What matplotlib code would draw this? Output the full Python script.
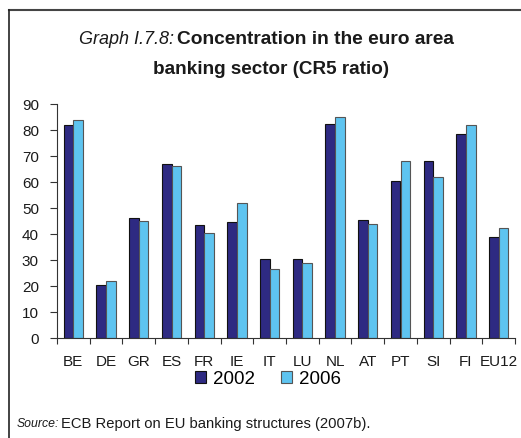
import matplotlib
matplotlib.use("Agg")
import matplotlib.pyplot as plt
from matplotlib.patches import Patch
from matplotlib.lines import Line2D
import numpy as np

plt.rcParams['font.family'] = ['Liberation Sans', 'DejaVu Sans']

categories = ["BE", "DE", "GR", "ES", "FR", "IE", "IT", "LU", "NL", "AT", "PT", "SI", "FI", "EU12"]
v2002 = [82, 20.5, 46, 67, 43.5, 44.5, 30.5, 30.5, 82.5, 45.5, 60.5, 68, 78.5, 39]
v2006 = [84, 22, 45, 66, 40.5, 52, 26.5, 29, 85, 44, 68, 62, 82, 42.5]
yticks = [0, 10, 20, 30, 40, 50, 60, 70, 80, 90]

c2002 = "#2E2A82"
c2006 = "#5EC4F0"

W, H = 521, 438
fig = plt.figure(figsize=(W / 100, H / 100), dpi=100)
ax = fig.add_axes([57 / W, 1 - 338 / H, (515 - 57) / W, (338 - 104) / H])

x = np.arange(len(categories))
bw = 0.295
ax.bar(x - bw / 2, v2002, width=bw, color=c2002, edgecolor="#111111", linewidth=0.8)
ax.bar(x + bw / 2, v2006, width=bw, color=c2006, edgecolor="#555555", linewidth=0.8)

ax.set_xlim(-0.5, len(categories) - 0.5)
ax.set_ylim(0, 90)
ax.set_yticks(yticks)
ax.set_xticks(x)
ax.set_xticklabels(categories, fontsize=11, color="#1a1a1a")
ax.set_xticks(np.arange(-0.5, len(categories), 1), minor=True)
ax.tick_params(axis="x", which="major", length=0, pad=12)
ax.tick_params(axis="x", which="minor", length=4, width=0.8, color="#333333", direction="out")
ax.tick_params(axis="y", length=5, width=0.8, color="#333333", labelsize=11, labelcolor="#1a1a1a", pad=8)
for s in ["top", "right"]:
    ax.spines[s].set_visible(False)
for s in ["left", "bottom"]:
    ax.spines[s].set_color("#333333")
    ax.spines[s].set_linewidth(0.8)

# Title
fig.text(174 / W, 1 - 40 / H, "Graph I.7.8:", ha="right", va="center", fontsize=13, style="italic", color="#1a1a1a")
fig.text(177 / W, 1 - 40 / H, "Concentration in the euro area", ha="left", va="center", fontsize=13.8, fontweight="bold", color="#1a1a1a")
fig.text(271 / W, 1 - 70 / H, "banking sector (CR5 ratio)", ha="center", va="center", fontsize=13.6, fontweight="bold", color="#1a1a1a")

# Legend
handles = [Patch(facecolor=c2002, edgecolor="#111111", linewidth=0.8),
           Patch(facecolor=c2006, edgecolor="#555555", linewidth=0.8)]
fig.legend(handles, ["2002", "2006"], loc="center", bbox_to_anchor=(268 / W, 1 - 379 / H),
           ncol=2, frameon=False, fontsize=13.5, handlelength=0.6, handleheight=0.6,
           handletextpad=0.35, columnspacing=1.4)

# Source
fig.text(17 / W, 1 - 424 / H, "Source:", ha="left", va="center", fontsize=8.8, style="italic", color="#1a1a1a")
fig.text(61 / W, 1 - 424 / H, "ECB Report on EU banking structures (2007b).", ha="left", va="center", fontsize=10.6, color="#1a1a1a")

# Frame lines
fig.add_artist(Line2D([9 / W, 1.0], [1 - 9.5 / H, 1 - 9.5 / H], color="#444444", linewidth=1.5))
fig.add_artist(Line2D([9 / W, 9 / W], [1 - 9.5 / H, 0], color="#222222", linewidth=1.2))

fig.savefig("out.png", dpi=100)
